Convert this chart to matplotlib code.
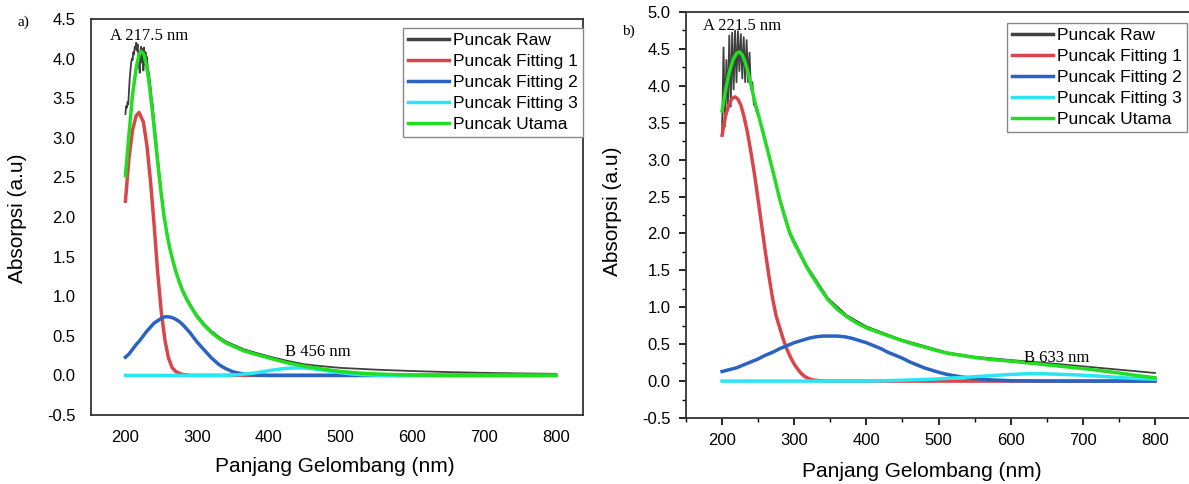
import matplotlib
matplotlib.use('Agg')
import matplotlib.pyplot as plt
from matplotlib.ticker import MultipleLocator

plt.rcParams['font.family'] = ['Liberation Sans', 'DejaVu Sans']
plt.rcParams['axes.unicode_minus'] = False

# ---- panel a data ----
a_raw_x = [200, 201, 202, 203, 204, 205, 206, 207, 208, 209, 210, 211, 212, 213, 214, 215,
           216, 217, 218, 219, 220, 221, 222, 223, 224, 225, 226, 227, 228, 229, 230, 231,
           232, 233, 234, 235, 236, 237, 238, 239, 240, 242, 246, 250, 254, 258, 262, 266,
           270, 275, 280, 286, 293, 300, 310, 320, 330, 340, 350, 365, 380, 400, 425, 450,
           475, 500, 550, 600, 650, 700, 750, 800]
a_raw_y = [3.30, 3.40, 3.38, 3.45, 3.42, 3.60, 3.75, 3.85, 3.95, 4.00, 3.98, 4.08, 4.05, 4.15,
           4.12, 4.20, 4.10, 4.18, 4.05, 3.90, 3.82, 4.10, 4.15, 3.95, 4.12, 3.85, 4.14, 3.92,
           4.08, 3.95, 4.02, 3.90, 3.85, 3.80, 3.72, 3.65, 3.55, 3.48, 3.42, 3.32, 3.22, 3.05,
           2.68, 2.32, 2.03, 1.80, 1.62, 1.47, 1.34, 1.20, 1.08, 0.97, 0.86, 0.76, 0.65, 0.56,
           0.49, 0.43, 0.39, 0.33, 0.29, 0.24, 0.185, 0.14, 0.115, 0.095, 0.072, 0.055, 0.042,
           0.032, 0.025, 0.02]

a_fit1_x = [200, 205, 210, 215, 219, 225, 230, 235, 240, 245, 250, 255, 260, 265, 270, 278, 290, 800]
a_fit1_y = [2.20, 2.75, 3.10, 3.28, 3.32, 3.20, 2.90, 2.45, 1.90, 1.30, 0.80, 0.45, 0.22, 0.10,
            0.05, 0.015, 0.0, 0.0]

a_fit2_x = [200, 205, 210, 215, 220, 225, 230, 235, 240, 245, 250, 255, 260, 265, 270, 275, 280,
            285, 290, 295, 300, 305, 310, 315, 320, 325, 330, 335, 340, 345, 350, 360, 370, 380,
            400, 800]
a_fit2_y = [0.23, 0.27, 0.33, 0.39, 0.44, 0.50, 0.56, 0.61, 0.66, 0.69, 0.72, 0.74, 0.74, 0.73,
            0.71, 0.68, 0.64, 0.59, 0.54, 0.48, 0.42, 0.37, 0.32, 0.27, 0.22, 0.18, 0.14, 0.11,
            0.085, 0.065, 0.045, 0.025, 0.012, 0.005, 0.0, 0.0]

a_fit3_x = [200, 340, 350, 360, 370, 380, 390, 400, 410, 420, 430, 440, 450, 460, 470, 480, 490,
            500, 510, 520, 530, 540, 560, 800]
a_fit3_y = [0.0, 0.0, 0.005, 0.01, 0.02, 0.03, 0.045, 0.06, 0.073, 0.085, 0.092, 0.095, 0.092,
            0.085, 0.073, 0.06, 0.047, 0.035, 0.024, 0.015, 0.009, 0.005, 0.0, 0.0]

a_main_x = [200, 205, 210, 215, 219, 222, 226, 230, 234, 238, 242, 246, 250, 254, 258, 262, 266,
            270, 275, 280, 286, 293, 300, 310, 320, 330, 340, 350, 365, 380, 400, 425, 450, 475,
            500, 525, 550, 575, 600, 650, 800]
a_main_y = [2.52, 3.05, 3.55, 3.88, 4.05, 4.09, 4.05, 3.88, 3.62, 3.30, 2.95, 2.60, 2.28, 2.00,
            1.78, 1.60, 1.45, 1.32, 1.18, 1.06, 0.95, 0.84, 0.74, 0.63, 0.54, 0.47, 0.41, 0.37,
            0.31, 0.27, 0.22, 0.16, 0.115, 0.08, 0.05, 0.03, 0.018, 0.01, 0.005, 0.0, 0.0]

# ---- panel b data ----
b_raw_x = [200, 202, 204, 206, 208, 210, 212, 214, 216, 218, 220, 222, 224, 226, 228, 230, 232,
           234, 236, 238, 240, 242, 244, 246, 248, 252, 257, 263, 270, 280, 294, 317, 347, 373,
           400, 446, 511, 550, 600, 650, 700, 750, 800]
b_raw_y = [3.38, 4.52, 3.45, 4.35, 3.70, 4.68, 3.72, 4.72, 3.95, 4.75, 4.05, 4.74, 4.20, 4.70,
           4.10, 4.66, 4.05, 4.62, 4.05, 4.45, 3.95, 4.05, 3.75, 3.72, 3.64, 3.55, 3.38, 3.15,
           2.88, 2.48, 2.02, 1.57, 1.12, 0.89, 0.74, 0.57, 0.39, 0.33, 0.285, 0.245, 0.20, 0.155,
           0.11]

b_fit1_x = [200, 205, 210, 214, 218, 222, 226, 230, 235, 240, 245, 250, 255, 260, 265, 270, 275,
            280, 285, 290, 295, 300, 305, 310, 315, 320, 326, 335, 350, 800]
b_fit1_y = [3.33, 3.60, 3.76, 3.83, 3.85, 3.82, 3.74, 3.60, 3.38, 3.10, 2.80, 2.45, 2.10, 1.75,
            1.42, 1.12, 0.88, 0.72, 0.56, 0.43, 0.32, 0.23, 0.16, 0.10, 0.06, 0.035, 0.015,
            0.005, 0.0, 0.0]

b_fit2_x = [200, 210, 220, 230, 240, 250, 260, 270, 280, 290, 300, 310, 320, 330, 340, 350, 360,
            370, 380, 390, 400, 410, 420, 430, 440, 450, 460, 470, 480, 490, 500, 510, 520, 530,
            540, 550, 560, 575, 600, 650, 800]
b_fit2_y = [0.13, 0.155, 0.18, 0.22, 0.26, 0.30, 0.35, 0.39, 0.44, 0.48, 0.52, 0.55, 0.58, 0.60,
            0.61, 0.61, 0.61, 0.60, 0.58, 0.55, 0.52, 0.48, 0.44, 0.39, 0.35, 0.31, 0.26, 0.22,
            0.18, 0.15, 0.12, 0.095, 0.075, 0.06, 0.045, 0.035, 0.025, 0.015, 0.005, 0.0, 0.0]

b_fit3_x = [200, 400, 425, 450, 475, 500, 525, 550, 575, 600, 625, 650, 675, 700, 725, 750, 775, 800]
b_fit3_y = [0.0, 0.0, 0.005, 0.012, 0.02, 0.03, 0.045, 0.06, 0.075, 0.09, 0.10, 0.098, 0.09,
            0.08, 0.065, 0.05, 0.035, 0.025]

b_main_x = [200, 205, 210, 215, 220, 224, 228, 232, 236, 240, 245, 250, 257, 263, 270, 275, 280,
            287, 294, 300, 308, 317, 325, 335, 347, 360, 373, 386, 400, 423, 446, 465, 480, 495,
            511, 530, 550, 575, 600, 625, 650, 675, 700, 725, 750, 775, 800]
b_main_y = [3.66, 3.95, 4.18, 4.35, 4.44, 4.46, 4.42, 4.32, 4.18, 4.02, 3.80, 3.62, 3.36, 3.13,
            2.86, 2.66, 2.46, 2.22, 2.00, 1.87, 1.72, 1.55, 1.42, 1.27, 1.10, 0.97, 0.87, 0.79,
            0.72, 0.64, 0.56, 0.50, 0.46, 0.42, 0.38, 0.35, 0.32, 0.29, 0.27, 0.245, 0.22, 0.195,
            0.17, 0.14, 0.11, 0.075, 0.045]

labels = ['Puncak Raw', 'Puncak Fitting 1', 'Puncak Fitting 2', 'Puncak Fitting 3', 'Puncak Utama']
colors = ['#404040', '#d9464a', '#2a63c2', '#2ae6f2', '#22dd22']


def draw(ax, series):
    for (x, y), lab, c in zip(series, labels, colors):
        lw = 1.3 if lab == 'Puncak Raw' else 2.5
        ax.plot(x, y, color=c, lw=lw, label=lab)


def add_legend(ax, anchor):
    leg = ax.legend(loc='upper right', bbox_to_anchor=anchor, borderaxespad=0, fontsize=12.5,
                    handlelength=2.35, handletextpad=0.25, labelspacing=0.33, borderpad=0.3,
                    fancybox=False, framealpha=1, edgecolor='#888888')
    for h in leg.get_lines():
        h.set_linewidth(2.5)


fig = plt.figure(figsize=(11.89, 4.84), dpi=100)

# panel a
ax1 = fig.add_axes([91 / 1189, 1 - 415 / 484, 492 / 1189, 396 / 484])
draw(ax1, [(a_raw_x, a_raw_y), (a_fit1_x, a_fit1_y), (a_fit2_x, a_fit2_y),
           (a_fit3_x, a_fit3_y), (a_main_x, a_main_y)])
ax1.set_xlim(152, 838)
ax1.set_ylim(-0.5, 4.5)
ax1.set_xticks(range(200, 801, 100))
ax1.set_yticks([-0.5, 0.0, 0.5, 1.0, 1.5, 2.0, 2.5, 3.0, 3.5, 4.0, 4.5])
ax1.tick_params(length=0, labelsize=12, pad=11)
for s in ax1.spines.values():
    s.set_linewidth(1.3)
    s.set_color('#333333')
ax1.text(179, 4.29, 'A 217.5 nm', family='Liberation Serif', fontsize=12, va='center')
ax1.text(423, 0.29, 'B 456 nm', family='Liberation Serif', fontsize=12, va='center')
ax1.set_xlabel('Panjang Gelombang (nm)', fontsize=15)
ax1.set_ylabel('Absorpsi (a.u)', fontsize=15)
ax1.xaxis.set_label_coords(0.496, -0.106)
ax1.yaxis.set_label_coords(-0.13, 0.497)
add_legend(ax1, (1.0, 0.977))

# panel b (right edge runs past the figure like the source)
ax2 = fig.add_axes([686 / 1189, 1 - 418 / 484, 505 / 1189, 406 / 484])
draw(ax2, [(b_raw_x, b_raw_y), (b_fit1_x, b_fit1_y), (b_fit2_x, b_fit2_y),
           (b_fit3_x, b_fit3_y), (b_main_x, b_main_y)])
ax2.set_xlim(150, 850)
ax2.set_ylim(-0.5, 5.0)
ax2.set_xticks(range(200, 801, 100))
ax2.set_yticks([-0.5, 0.0, 0.5, 1.0, 1.5, 2.0, 2.5, 3.0, 3.5, 4.0, 4.5, 5.0])
ax2.xaxis.set_minor_locator(MultipleLocator(50))
ax2.yaxis.set_minor_locator(MultipleLocator(0.25))
ax2.tick_params(which='major', direction='out', length=5, width=1.2, labelsize=12, pad=6)
ax2.tick_params(which='minor', direction='out', length=3, width=1.0)
for s in ax2.spines.values():
    s.set_linewidth(1.3)
    s.set_color('#333333')
ax2.text(174, 4.81, 'A 221.5 nm', family='Liberation Serif', fontsize=12, va='center')
ax2.text(618, 0.31, 'B 633 nm', family='Liberation Serif', fontsize=12, va='center')
ax2.set_xlabel('Panjang Gelombang (nm)', fontsize=15)
ax2.set_ylabel('Absorpsi (a.u)', fontsize=15)
ax2.xaxis.set_label_coords(0.467, -0.108)
ax2.yaxis.set_label_coords(-0.127, 0.51)
add_legend(ax2, (0.992, 0.973))

fig.text(18 / 1189, 1 - 22 / 484, 'a)', family='Liberation Serif', fontsize=11, va='center')
fig.text(622 / 1189, 1 - 31 / 484, 'b)', family='Liberation Serif', fontsize=11, va='center')

fig.savefig('out.png', dpi=100)
